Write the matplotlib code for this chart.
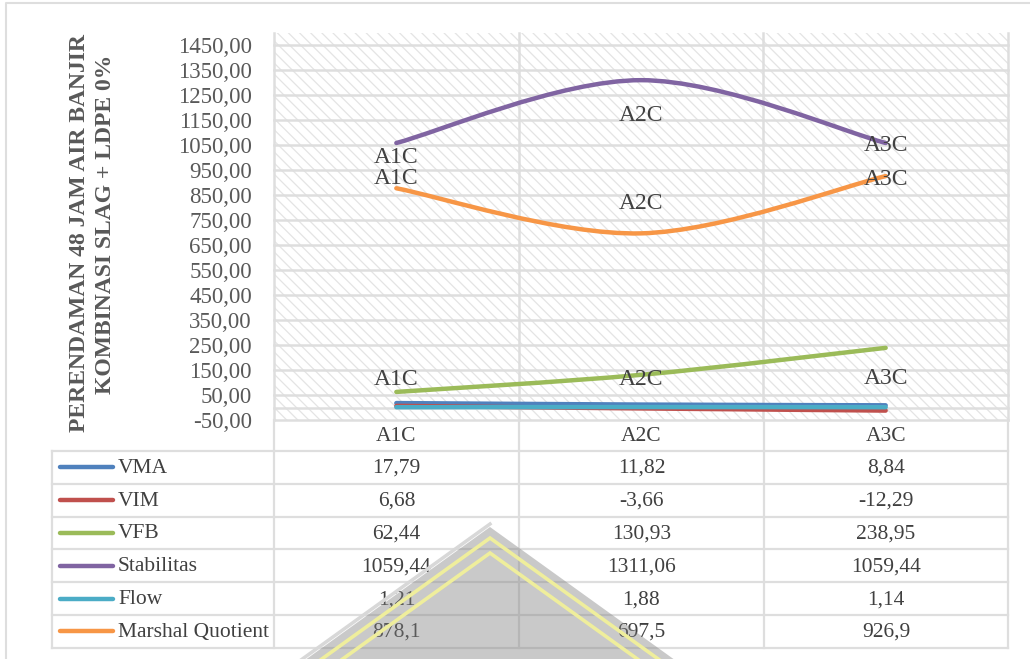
import numpy as np
import matplotlib
matplotlib.use("Agg")
import matplotlib.pyplot as plt
from matplotlib.path import Path
from matplotlib.patches import PathPatch, Rectangle, Polygon, Arc

# ---- data -------------------------------------------------------------
categories = ["A1C", "A2C", "A3C"]
vma = [17.79, 11.82, 8.84]
vim = [6.68, -3.66, -12.29]
vfb = [62.44, 130.93, 238.95]
stabilitas = [1059.44, 1311.06, 1059.44]
flow = [1.21, 1.88, 1.14]
marshal_quotient = [878.1, 697.5, 926.9]
series_names = ["VMA", "VIM", "VFB", "Stabilitas", "Flow", "Marshal Quotient"]
y_ticks = np.arange(-50, 1451, 100)
title_lines = ["PERENDAMAN 48 JAM AIR BANJIR", "KOMBINASI SLAG + LDPE 0%"]

series_values = [vma, vim, vfb, stabilitas, flow, marshal_quotient]
colors = ["#4F81BD", "#C0504D", "#9BBB59", "#8064A2", "#4BACC6", "#F79646"]

# ---- styling ----------------------------------------------------------
plt.rcParams["font.family"] = ["Liberation Serif", "DejaVu Serif"]
HATCH = "#e4e4e4"
plt.rcParams["hatch.color"] = HATCH
plt.rcParams["hatch.linewidth"] = 0.9
GRID = "#dedede"
TXT = "#595959"
DARK = "#404040"
FS = 15.5

W, H = 1030, 659
fig = plt.figure(figsize=(W / 100, H / 100), dpi=100)

# pixel-space canvas for the data table, frame and emblem
bg = fig.add_axes([0, 0, 1, 1])
bg.set_xlim(0, W)
bg.set_ylim(H, 0)
bg.axis("off")

# ---- plot area --------------------------------------------------------
px_left, px_right, px_top, px_bottom = 274, 1008, 33, 420
ax = fig.add_axes([px_left / W, 1 - px_bottom / H,
                   (px_right - px_left) / W, (px_bottom - px_top) / H])
ax.set_xlim(-0.5, len(categories) - 0.5)
ax.set_ylim(-50, 1500)
ax.add_patch(Rectangle((0, 0), 1, 1, transform=ax.transAxes, facecolor="white",
                       edgecolor=HATCH, hatch="\\\\\\", lw=0, zorder=0))
for t in list(y_ticks) + [0]:
    ax.axhline(t, color=GRID, lw=1.8, zorder=1, clip_on=False)
for xv in np.arange(-0.5, len(categories), 1.0):
    ax.axvline(xv, color=GRID, lw=1.8, zorder=1, clip_on=False)
for s in ax.spines.values():
    s.set_visible(False)
ax.set_xticks([])
ax.set_yticks(y_ticks)
ax.set_yticklabels([f"{t:.2f}".replace(".", ",") for t in y_ticks])
ax.tick_params(axis="y", length=0, pad=16, labelsize=16.5, labelcolor=TXT)


def smooth_path(ys):
    """Cubic Bezier path through the points (Catmull-Rom style smoothing)."""
    pts = np.column_stack([np.arange(len(ys)), ys]).astype(float)
    ext = np.vstack([pts[0], pts, pts[-1]])
    verts = [tuple(pts[0])]
    codes = [Path.MOVETO]
    for i in range(len(pts) - 1):
        p0, p1, p2, p3 = ext[i], ext[i + 1], ext[i + 2], ext[i + 3]
        c1 = p1 + (p2 - p0) / 6.0
        c2 = p2 - (p3 - p1) / 6.0
        verts += [tuple(c1), tuple(c2), tuple(p2)]
        codes += [Path.CURVE4] * 3
    return Path(verts, codes)


for vals, col in zip(series_values, colors):
    ax.add_patch(PathPatch(smooth_path(vals), facecolor="none", edgecolor=col,
                           lw=3.2, capstyle="round", joinstyle="round", zorder=3))

# point labels (offsets in pixels from each point)
label_offsets = {
    3: [-15, -35, -3],   # Stabilitas
    5: [10, 30, -3],     # Marshal Quotient
    2: [12, -5, -31],    # VFB
}
for si, offs in label_offsets.items():
    for i, cat in enumerate(categories):
        ax.annotate(cat, (i, series_values[si][i]), xytext=(0, offs[i]),
                    textcoords="offset pixels", ha="center", va="center",
                    fontsize=17, color=DARK, zorder=4)

# ---- axis title -------------------------------------------------------
bg.text(80, 233, title_lines[0], rotation=90, ha="center", va="center",
        fontsize=17, fontweight="bold", color=TXT)
bg.text(106, 224, title_lines[1], rotation=90, ha="center", va="center",
        fontsize=17, fontweight="bold", color=TXT)

# ---- data table -------------------------------------------------------
col_edges = [52, 274, 519, 764, 1008]
header_top, row_top, row_h = 420, 451, 32.8
n_rows = len(series_names)
row_edges = [row_top + k * row_h for k in range(n_rows + 1)]
lk = dict(color=GRID, lw=1.6, zorder=1, solid_capstyle="projecting")
for y in row_edges:
    bg.plot([col_edges[0], col_edges[-1]], [y, y], **lk)
for x in col_edges[1:]:
    bg.plot([x, x], [header_top, row_edges[-1]], **lk)
bg.plot([col_edges[0], col_edges[0]], [row_top, row_edges[-1]], **lk)

col_centers = [(col_edges[j] + col_edges[j + 1]) / 2 for j in range(1, 4)]
for j, cat in enumerate(categories):
    bg.text(col_centers[j], (header_top + row_top) / 2 + 1, cat, ha="center",
            va="center", fontsize=FS, color=DARK)
for r, (name, vals, col) in enumerate(zip(series_names, series_values, colors)):
    yc = row_edges[r] + row_h / 2
    bg.plot([60, 113], [yc, yc], color=col, lw=3.2, solid_capstyle="round",
            zorder=2)
    bg.text(118, yc + 1, name, ha="left", va="center", fontsize=FS, color=DARK)
    for j, v in enumerate(vals):
        bg.text(col_centers[j], yc + 1, f"{v:g}".replace(".", ","),
                ha="center", va="center", fontsize=FS, color=DARK)

# ---- outer frame ------------------------------------------------------
bg.plot([6, 6, W + 10], [H + 10, 3, 3], color=GRID, lw=1.5, zorder=1)

# ---- emblem -----------------------------------------------------------
ax_x, ax_y, sl, yb = 490, 527, 1.39, 720
bg.plot([ax_x - sl * (yb - ax_y + 3), ax_x], [yb, ax_y - 3],
        color="#d8d8d8", lw=2.5, zorder=9)
bg.add_patch(Polygon([(ax_x - sl * (yb - ax_y), yb), (ax_x, ax_y),
                      (ax_x + sl * (yb - ax_y), yb)], closed=True,
                     facecolor="#808080", alpha=0.42, lw=0, zorder=10))
for off in (11, 26):
    ya = ax_y + off
    bg.plot([ax_x - sl * (yb - ya), ax_x, ax_x + sl * (yb - ya)], [yb, ya, yb],
            color="#efee9c", lw=2.6, zorder=11, solid_joinstyle="miter")
bg.add_patch(Arc((ax_x, 690), 64, 80, theta1=40, theta2=140,
                 color="#efee9c", lw=3, zorder=11))

fig.savefig("out.png", dpi=100, facecolor="white")
